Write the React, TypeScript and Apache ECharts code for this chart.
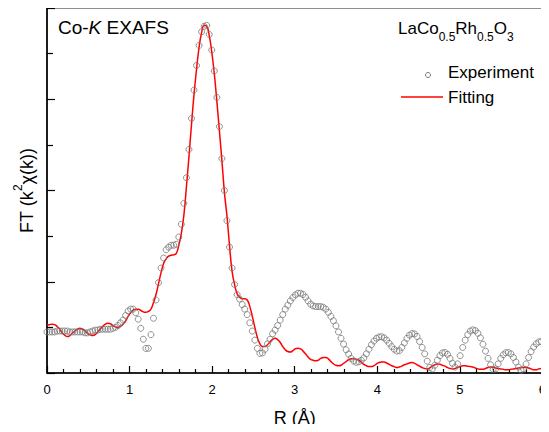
import React, { useEffect, useRef } from "react";
import * as echarts from "echarts";

const FONT = "'Liberation Sans', Arial, sans-serif";

// R grid spacing (Å) of the Fourier transform
const R_STEP = 0.0307;

// Experiment |FT| values, one per R grid point (n = 0..195)
const EXPERIMENT = [
  0.45, 0.45, 0.45, 0.45, 0.46, 0.46, 0.46, 0.46, 0.46, 0.45,
  0.45, 0.45, 0.45, 0.45, 0.45, 0.44, 0.44, 0.45, 0.46, 0.47,
  0.47, 0.48, 0.48, 0.48, 0.48, 0.48, 0.49, 0.50, 0.52, 0.55,
  0.58, 0.63, 0.68, 0.70, 0.70, 0.66, 0.59, 0.49, 0.37, 0.27,
  0.27, 0.42, 0.60, 0.80, 0.99, 1.15, 1.26, 1.35, 1.38, 1.40,
  1.40, 1.41, 1.49, 1.63, 1.86, 2.14, 2.45, 2.79, 3.10, 3.37,
  3.59, 3.74, 3.80, 3.81, 3.71, 3.54, 3.31, 3.02, 2.70, 2.35,
  2.00, 1.67, 1.38, 1.15, 0.97, 0.86, 0.81, 0.75, 0.70, 0.64,
  0.55, 0.46, 0.36, 0.27, 0.215, 0.22, 0.26, 0.32, 0.37, 0.43,
  0.47, 0.52, 0.58, 0.64, 0.70, 0.743, 0.79, 0.827, 0.856, 0.874,
  0.874, 0.86, 0.83, 0.79, 0.755, 0.735, 0.728, 0.728, 0.728, 0.72,
  0.70, 0.665, 0.62, 0.572, 0.517, 0.45, 0.38, 0.317, 0.255, 0.208,
  0.16, 0.131, 0.117, 0.123, 0.14, 0.165, 0.21, 0.26, 0.31, 0.35,
  0.38, 0.395, 0.397, 0.385, 0.36, 0.325, 0.29, 0.26, 0.24, 0.245,
  0.28, 0.33, 0.38, 0.415, 0.432, 0.428, 0.40, 0.345, 0.28, 0.21,
  0.13, 0.06, 0.045, 0.085, 0.14, 0.19, 0.22, 0.225, 0.205, 0.16,
  0.105, 0.065, 0.10, 0.19, 0.28, 0.36, 0.42, 0.46, 0.473, 0.465,
  0.435, 0.385, 0.315, 0.24, 0.16, 0.09, 0.04, 0.045, 0.10, 0.16,
  0.20, 0.222, 0.225, 0.21, 0.17, 0.12, 0.065, 0.03, 0.045, 0.10,
  0.17, 0.235, 0.285, 0.32, 0.34, 0.345,
];

// Fitting curve values on the same R grid
const FITTING = [
  0.525, 0.53, 0.535, 0.53, 0.51, 0.48, 0.44, 0.415, 0.40, 0.41,
  0.435, 0.46, 0.48, 0.49, 0.48, 0.46, 0.435, 0.42, 0.41, 0.42,
  0.45, 0.48, 0.51, 0.535, 0.545, 0.54, 0.52, 0.505, 0.50, 0.51,
  0.535, 0.57, 0.62, 0.66, 0.69, 0.70, 0.70, 0.685, 0.67, 0.665,
  0.675, 0.70, 0.77, 0.86, 0.98, 1.10, 1.20, 1.25, 1.28, 1.29,
  1.295, 1.31, 1.40, 1.53, 1.73, 2.04, 2.37, 2.72, 3.05, 3.33,
  3.57, 3.73, 3.81, 3.80, 3.70, 3.52, 3.28, 2.98, 2.66, 2.33,
  1.98, 1.72, 1.40, 1.12, 0.97, 0.87, 0.83, 0.815, 0.815, 0.80,
  0.73, 0.62, 0.50, 0.39, 0.32, 0.29, 0.29, 0.31, 0.34, 0.37,
  0.38, 0.365, 0.335, 0.29, 0.255, 0.235, 0.23, 0.245, 0.265, 0.27,
  0.265, 0.24, 0.21, 0.175, 0.15, 0.14, 0.135, 0.14, 0.16, 0.17,
  0.17, 0.155, 0.125, 0.10, 0.085, 0.08, 0.085, 0.105, 0.125, 0.145,
  0.155, 0.155, 0.15, 0.14, 0.12, 0.095, 0.08, 0.07, 0.07, 0.08,
  0.10, 0.115, 0.12, 0.12, 0.11, 0.095, 0.08, 0.07, 0.06, 0.065,
  0.075, 0.09, 0.10, 0.11, 0.115, 0.105, 0.09, 0.075, 0.06, 0.05,
  0.045, 0.055, 0.075, 0.09, 0.10, 0.095, 0.085, 0.075, 0.06, 0.05,
  0.045, 0.05, 0.06, 0.07, 0.08, 0.08, 0.075, 0.07, 0.065, 0.055,
  0.045, 0.04, 0.04, 0.05, 0.06, 0.065, 0.06, 0.055, 0.05, 0.045,
  0.04, 0.035, 0.035, 0.04, 0.045, 0.05, 0.055, 0.06, 0.06, 0.06,
  0.055, 0.045, 0.035, 0.035, 0.045, 0.05,
];

const X_MIN = 0;
const X_MAX = 6;
const Y_MIN = 0;
const Y_MAX = 4;

export default function App() {
  const ref = useRef<HTMLDivElement>(null);

  useEffect(() => {
    if (!ref.current) return;
    const chart = echarts.init(ref.current, null, { renderer: "svg" });
    const expData = EXPERIMENT.map((v, i) => [Number((i * R_STEP).toFixed(4)), v]);
    const fitData = FITTING.map((v, i) => [Number((i * R_STEP).toFixed(4)), v]);

    chart.setOption({
      animation: false,
      backgroundColor: "#ffffff",
      textStyle: { fontFamily: FONT },
      grid: {
        left: 47,
        right: 2,
        top: 8,
        bottom: 58,
        show: true,
        borderColor: "#222",
        borderWidth: 1,
        backgroundColor: "transparent",
      },
      xAxis: {
        type: "value",
        min: X_MIN,
        max: X_MAX,
        interval: 1,
        name: "R (Å)",
        nameLocation: "middle",
        nameGap: 36,
        nameTextStyle: { fontSize: 18, color: "#000", fontFamily: FONT },
        axisLine: { show: true, onZero: false, lineStyle: { color: "#000", width: 1.6 } },
        axisTick: { show: true, inside: true, length: 7, lineStyle: { color: "#000", width: 1.2 } },
        minorTick: { show: true, splitNumber: 5, length: 4, lineStyle: { color: "#000", width: 1.2 } },
        axisLabel: { fontSize: 13, color: "#000", margin: 10, fontFamily: FONT },
        splitLine: { show: false },
        minorSplitLine: { show: false },
      },
      yAxis: {
        type: "value",
        min: Y_MIN,
        max: Y_MAX,
        interval: 1,
        name: "{a|FT (k}{s|2}{a|χ(k))}",
        nameLocation: "middle",
        nameGap: 17,
        nameRotate: 90,
        nameTextStyle: {
          color: "#000",
          fontSize: 18,
          fontFamily: FONT,
          rich: {
            a: { fontSize: 18, lineHeight: 18, padding: [6, 0, 0, 0], verticalAlign: "top", color: "#000", fontFamily: FONT },
            s: { fontSize: 12, lineHeight: 12, verticalAlign: "top", color: "#000", fontFamily: FONT },
          },
        },
        axisLine: { show: true, onZero: false, lineStyle: { color: "#000", width: 1.6 } },
        axisTick: { show: true, inside: true, length: 8, lineStyle: { color: "#000", width: 1.2 } },
        minorTick: { show: true, splitNumber: 2, length: 6, lineStyle: { color: "#000", width: 1.2 } },
        axisLabel: { show: false },
        splitLine: { show: false },
        minorSplitLine: { show: false },
      },
      series: [
        {
          name: "Fitting",
          type: "line",
          data: fitData,
          smooth: true,
          showSymbol: false,
          symbol: "none",
          lineStyle: { color: "#ff0000", width: 1.5 },
          z: 2,
        },
        {
          name: "Experiment",
          type: "scatter",
          data: expData,
          symbol: "circle",
          symbolSize: 6,
          itemStyle: { color: "rgba(0,0,0,0)", borderColor: "#777", borderWidth: 1 },
          z: 3,
        },
      ],
      graphic: [
        {
          type: "text",
          left: 58,
          top: 18,
          style: {
            text: "{n|Co-}{i|K}{n| EXAFS}",
            rich: {
              n: { fontSize: 19, fontFamily: FONT, fill: "#000", lineHeight: 19 },
              i: { fontSize: 19, fontFamily: FONT, fontStyle: "italic", fill: "#000", lineHeight: 19 },
            },
            fill: "#000",
          },
        },
        {
          type: "text",
          left: 398,
          top: 20,
          style: {
            text: "{a|LaCo}{s|0.5}{a|Rh}{s|0.5}{a|O}{s|3}",
            rich: {
              a: { fontSize: 17, lineHeight: 17, verticalAlign: "top", fontFamily: FONT, fill: "#000" },
              s: { fontSize: 12, lineHeight: 12, padding: [11, 0, 0, 0], verticalAlign: "top", fontFamily: FONT, fill: "#000" },
            },
            fill: "#000",
          },
        },
        {
          type: "circle",
          shape: { cx: 428, cy: 75, r: 2.5 },
          style: { fill: "rgba(0,0,0,0)", stroke: "#777", lineWidth: 1 },
        },
        {
          type: "text",
          left: 448,
          top: 64,
          style: { text: "Experiment", fontSize: 17, fontFamily: FONT, fill: "#000" },
        },
        {
          type: "line",
          shape: { x1: 401, y1: 97, x2: 443, y2: 97 },
          style: { stroke: "#ff0000", lineWidth: 1.5 },
        },
        {
          type: "text",
          left: 448,
          top: 89,
          style: { text: "Fitting", fontSize: 17, fontFamily: FONT, fill: "#000" },
        },
      ],
    });

    return () => {
      chart.dispose();
    };
  }, []);

  return <div ref={ref} style={{ width: 549, height: 432, margin: -8 }} />;
}
